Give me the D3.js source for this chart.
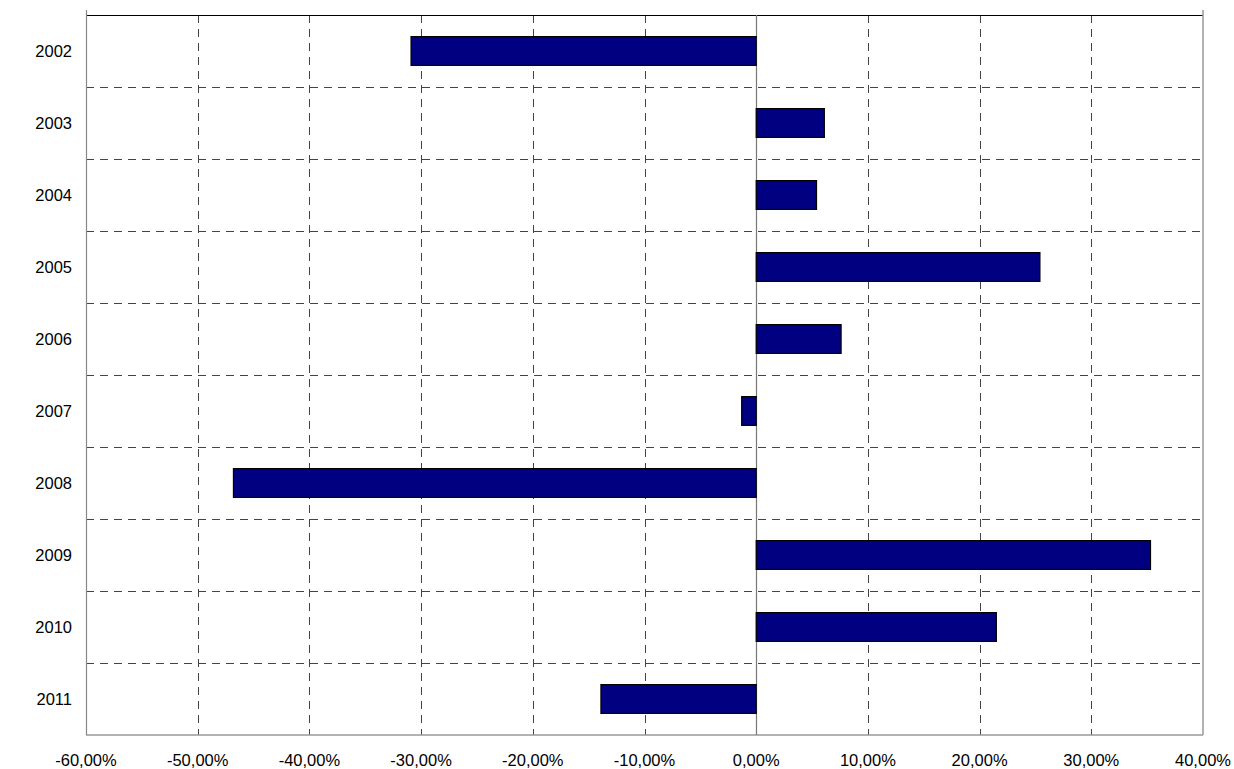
<!DOCTYPE html>
<html>
<head>
<meta charset="utf-8">
<script src="https://cdn.jsdelivr.net/npm/d3@7"></script>
<style>
  body { margin: 0; background: #fff; }
  text { font-family: "Liberation Sans", Arial, sans-serif; font-size: 16.5px; fill: #000; }
</style>
</head>
<body>
<svg id="chart"></svg>
<script>
var width = 1234;
var height = 769;

// data (percent)
var years = ['2002', '2003', '2004', '2005', '2006', '2007', '2008', '2009', '2010', '2011'];
var changes = [-30.9, 6.1, 5.4, 25.4, 7.6, -1.3, -46.8, 35.3, 21.5, -13.9];
var xTicks = [-60, -50, -40, -30, -20, -10, 0, 10, 20, 30, 40];

var plotLeft = 86, plotRight = 1203, plotTop = 15, plotBottom = 735;

var svg = d3.select('#chart')
    .attr('width', width)
    .attr('height', height);

var xScale = d3.scaleLinear()
    .domain([-60, 40])
    .range([plotLeft, plotRight]);

var yScale = d3.scaleBand()
    .domain(years)
    .range([plotTop, plotBottom])
    .paddingInner(0.6)
    .paddingOuter(0.3);

// 12.5 -> "12,50%", -60 -> "-60,00%"
var fmt = function (d) { return d.toFixed(2).replace('.', ',') + '%'; };

// vertical grid
svg.append('g')
    .selectAll('line')
    .data(xTicks.filter(d => d !== 0 && d !== -60 && d !== 40))
    .enter()
    .append('line')
        .attr('x1', d => Math.round(xScale(d)) + 0.5)
        .attr('x2', d => Math.round(xScale(d)) + 0.5)
        .attr('y1', plotTop)
        .attr('y2', plotBottom)
        .attr('stroke', '#444')
        .attr('stroke-dasharray', '8,6');

// horizontal grid between categories
var step = yScale.step();
svg.append('g')
    .selectAll('line')
    .data(years.slice(1))
    .enter()
    .append('line')
        .attr('x1', plotLeft)
        .attr('x2', plotRight)
        .attr('y1', d => Math.round(yScale(d) - step * yScale.paddingInner() / 2) + 0.5)
        .attr('y2', d => Math.round(yScale(d) - step * yScale.paddingInner() / 2) + 0.5)
        .attr('stroke', '#444')
        .attr('stroke-dasharray', '8,6');

// frame
svg.append('line')
    .attr('x1', plotLeft).attr('x2', plotRight)
    .attr('y1', plotTop + 0.5).attr('y2', plotTop + 0.5)
    .attr('stroke', '#000')
    .attr('stroke-width', 1.2);
svg.append('line')
    .attr('x1', plotLeft).attr('x2', plotRight)
    .attr('y1', plotBottom).attr('y2', plotBottom)
    .attr('stroke', '#999')
    .attr('stroke-width', 1.5);
svg.append('line')
    .attr('x1', plotLeft + 0.5).attr('x2', plotLeft + 0.5)
    .attr('y1', plotTop - 5).attr('y2', plotBottom)
    .attr('stroke', '#888')
    .attr('stroke-width', 1.2);
svg.append('line')
    .attr('x1', plotRight).attr('x2', plotRight)
    .attr('y1', plotTop - 5).attr('y2', plotBottom)
    .attr('stroke', '#999')
    .attr('stroke-width', 1.5);

// zero line
svg.append('line')
    .attr('x1', Math.round(xScale(0)) + 0.5).attr('x2', Math.round(xScale(0)) + 0.5)
    .attr('y1', plotTop).attr('y2', plotBottom)
    .attr('stroke', '#777')
    .attr('stroke-width', 1.2);

// bars
svg.append('g')
    .selectAll('rect')
    .data(years)
    .enter()
    .append('rect')
        .attr('x', (d, i) => xScale(Math.min(0, changes[i])))
        .attr('y', d => yScale(d))
        .attr('width', (d, i) => Math.abs(xScale(changes[i]) - xScale(0)))
        .attr('height', yScale.bandwidth())
        .attr('fill', '#000080')
        .attr('stroke', '#000')
        .attr('stroke-width', 1.2);

// year labels
svg.append('g')
    .selectAll('text')
    .data(years)
    .enter()
    .append('text')
        .attr('x', 72)
        .attr('y', d => yScale(d) + yScale.bandwidth() / 2)
        .attr('dy', '0.35em')
        .style('text-anchor', 'end')
        .text(d => d);

// x tick labels
svg.append('g')
    .selectAll('text')
    .data(xTicks)
    .enter()
    .append('text')
        .attr('x', d => xScale(d))
        .attr('y', 766)
        .style('text-anchor', 'middle')
        .text(fmt);
</script>
</body>
</html>
